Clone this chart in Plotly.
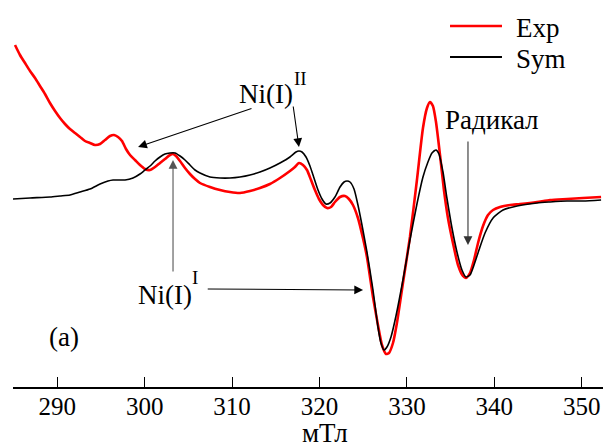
import plotly.graph_objects as go

# Magnetic field (mT) and intensity (arb. units)
exp_field = [285.16, 285.73, 286.30, 286.88, 287.45, 288.02, 288.59, 289.16, 289.74, 290.31,
             290.88, 291.45, 292.03, 292.60, 293.17, 293.74, 294.31, 294.89, 295.46, 296.03,
             296.49, 296.95, 297.40, 297.86, 298.32, 298.89, 299.46, 300.03, 300.61, 301.18,
             301.75, 302.32, 302.89, 303.24, 303.58, 304.04, 304.61, 305.18, 305.76, 306.33,
             307.47, 308.62, 309.76, 310.90, 312.05, 313.19, 314.33, 315.48, 316.62, 317.19,
             317.65, 318.11, 318.57, 319.03, 319.48, 319.94, 320.40, 320.86, 321.32, 321.77,
             322.35, 322.92, 323.37, 323.83, 324.40, 324.97, 325.43, 326.12, 326.69, 327.15,
             327.61, 327.95, 328.41, 328.86, 329.55, 330.35, 331.15, 331.84, 332.30, 332.64,
             332.98, 333.33, 333.79, 334.24, 334.70, 335.27, 335.85, 336.42, 336.76, 337.22,
             337.68, 338.14, 338.71, 339.28, 339.86, 340.66, 341.80, 342.95, 344.89, 346.38,
             348.33, 350.16, 352.22]
exp_signal = [1.55, 1.45, 1.37, 1.29, 1.22, 1.14, 1.06, 0.97, 0.89, 0.82,
              0.76, 0.71, 0.67, 0.63, 0.59, 0.57, 0.55, 0.56, 0.60, 0.64,
              0.65, 0.63, 0.59, 0.51, 0.45, 0.40, 0.35, 0.31, 0.30, 0.33,
              0.37, 0.41, 0.45, 0.46, 0.44, 0.39, 0.32, 0.26, 0.21, 0.17,
              0.13, 0.10, 0.08, 0.07, 0.09, 0.12, 0.16, 0.22, 0.29, 0.33,
              0.37, 0.35, 0.30, 0.20, 0.10, 0.01, -0.05, -0.08, -0.07, -0.02,
              0.03, 0.04, 0.01, -0.05, -0.18, -0.38, -0.57, -0.97, -1.25, -1.45,
              -1.54, -1.53, -1.43, -1.23, -0.83, -0.37, 0.20, 0.72, 0.92, 0.98,
              0.94, 0.78, 0.45, 0.10, -0.18, -0.43, -0.65, -0.76, -0.78, -0.73,
              -0.60, -0.43, -0.26, -0.15, -0.10, -0.07, -0.05, -0.04, -0.02, 0.00,
              0.01, 0.02, 0.03]

sym_field = [284.93, 286.88, 289.16, 290.31, 291.45, 292.60, 293.74, 294.89, 295.80, 296.38,
             297.75, 298.66, 299.46, 300.03, 300.61, 301.18, 301.75, 302.32, 302.89, 303.47,
             304.04, 304.61, 305.18, 305.76, 306.33, 307.47, 308.62, 309.76, 310.90, 312.05,
             313.19, 314.33, 315.48, 316.62, 317.31, 317.65, 318.00, 318.46, 318.91, 319.37,
             319.83, 320.29, 320.74, 321.20, 321.77, 322.35, 322.81, 323.15, 323.49, 323.95,
             324.40, 324.86, 325.43, 326.12, 326.69, 327.03, 327.38, 327.72, 328.18, 328.75,
             329.55, 330.35, 331.15, 331.84, 332.41, 332.87, 333.33, 333.67, 334.13, 334.58,
             335.16, 335.73, 336.30, 336.76, 337.22, 337.68, 338.25, 338.94, 339.86, 341.00,
             342.61, 344.89, 346.38, 348.33, 350.16, 352.22]
sym_signal = [0.01, 0.02, 0.03, 0.04, 0.05, 0.08, 0.11, 0.16, 0.19, 0.20,
              0.20, 0.22, 0.26, 0.30, 0.34, 0.39, 0.43, 0.46, 0.47, 0.47,
              0.44, 0.40, 0.35, 0.30, 0.27, 0.23, 0.22, 0.22, 0.23, 0.25,
              0.28, 0.32, 0.37, 0.43, 0.48, 0.49, 0.48, 0.43, 0.34, 0.22,
              0.10, 0.01, -0.04, -0.03, 0.03, 0.13, 0.18, 0.19, 0.18, 0.11,
              -0.05, -0.25, -0.52, -0.90, -1.27, -1.43, -1.50, -1.47, -1.37, -1.16,
              -0.80, -0.40, -0.04, 0.23, 0.38, 0.47, 0.50, 0.46, 0.28, 0.02,
              -0.28, -0.52, -0.70, -0.77, -0.75, -0.65, -0.50, -0.33, -0.18, -0.10,
              -0.06, -0.03, -0.02, -0.01, -0.01, 0.00]

tick_vals = [290, 300, 310, 320, 330, 340, 350]
tick_text = ["290", "300", "310", "320", "330", "340", "350"]
series_names = ["Exp", "Sym"]
series_colors = ["#ff0000", "#000000"]

FONT = "Liberation Serif, Times New Roman, serif"
FS = 27

fig = go.Figure()
fig.add_trace(go.Scatter(x=exp_field, y=exp_signal, mode="lines", name=series_names[0],
                         line=dict(color=series_colors[0], width=2.6, shape="spline", smoothing=0.6),
                         showlegend=False))
fig.add_trace(go.Scatter(x=sym_field, y=sym_signal, mode="lines", name=series_names[1],
                         line=dict(color=series_colors[1], width=1.6, shape="spline", smoothing=0.6),
                         showlegend=False))

# manual legend
leg_y = [0.9328, 0.8527]
for name, color, yy, w in zip(series_names, series_colors, leg_y, [2.6, 1.8]):
    fig.add_shape(type="line", xref="paper", yref="paper", x0=0.7407, x1=0.8288, y0=yy, y1=yy,
                  line=dict(color=color, width=w))
    fig.add_annotation(text=name, xref="paper", yref="paper", x=0.849, y=yy - 0.004,
                       xanchor="left", yanchor="middle", showarrow=False,
                       font=dict(family=FONT, size=FS, color="black"))

def arrow(x_head, y_head, x_tail, y_tail, color="black"):
    fig.add_annotation(x=x_head, y=y_head, ax=x_tail, ay=y_tail, xref="x", yref="y",
                       axref="x", ayref="y", text="", showarrow=True,
                       arrowhead=2, arrowsize=1.6, arrowwidth=1.1, arrowcolor=color)

def label(text, x, y, xanchor="left", size=FS):
    fig.add_annotation(x=x, y=y, xref="x", yref="y", text=text, showarrow=False,
                       xanchor=xanchor, yanchor="middle",
                       font=dict(family=FONT, size=size, color="black"))

label("Ni(I)", 310.55, 1.06)
label("II", 317.88, 1.22, xanchor="center", size=19)
arrow(299.24, 0.53, 312.39, 0.92)
arrow(317.65, 0.53, 316.97, 0.95)
label("Ni(I)", 299.05, -0.945)
label("I", 305.78, -0.77, xanchor="center", size=19)
arrow(324.99, -0.90, 307.04, -0.89)
arrow(303.24, 0.40, 303.24, -0.73, color="#555555")
label("Радикал", 339.74, 0.80, xanchor="center")
arrow(336.99, -0.45, 336.99, 0.60, color="#333333")
label("(a)", 290.77, -1.37, xanchor="center")

fig.add_annotation(text="мТл", xref="x", yref="paper", x=320.6, y=-0.12,
                   xanchor="center", yanchor="middle", showarrow=False,
                   font=dict(family=FONT, size=FS, color="black"))

fig.update_layout(
    width=603, height=448,
    margin=dict(l=13, r=0, t=0, b=61, autoexpand=False),
    paper_bgcolor="white", plot_bgcolor="white",
    font=dict(family=FONT, size=FS, color="black"),
    xaxis=dict(range=[284.93, 352.44], tickvals=tick_vals, ticktext=tick_text,
               ticks="inside", ticklen=10, tickwidth=1.2, tickcolor="black",
               showline=True, linecolor="black", linewidth=2, showgrid=False,
               zeroline=False, automargin=False, ticklabelstandoff=-4,
               tickfont=dict(family=FONT, size=25, color="black")),
    yaxis=dict(range=[-1.87, 2.0], visible=False, showgrid=False, zeroline=False,
               automargin=False),
)

fig.write_html("out.html", config={"displayModeBar": False},
               post_script="document.body.style.margin='0';document.body.style.padding='0';")
